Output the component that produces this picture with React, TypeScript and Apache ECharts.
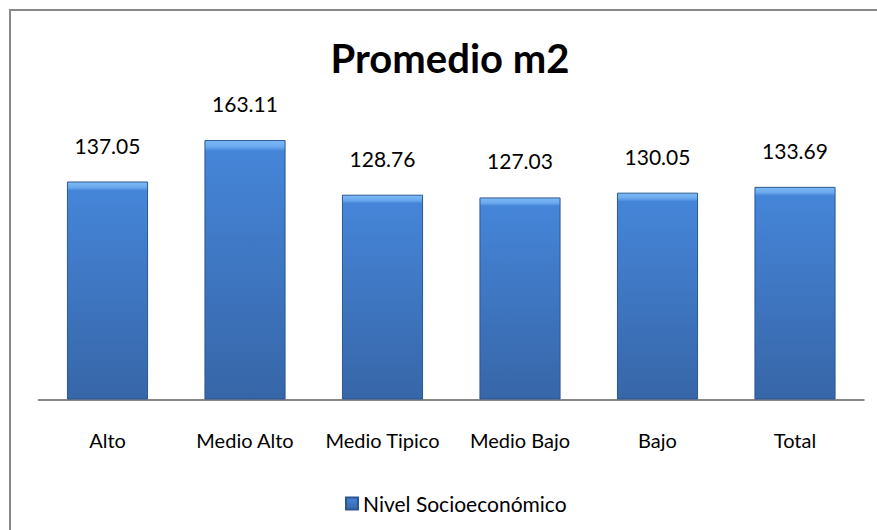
import React, { useEffect, useRef } from "react";
import * as echarts from "echarts";

const categories = ["Alto", "Medio Alto", "Medio Tipico", "Medio Bajo", "Bajo", "Total"];
const values = [137.05, 163.11, 128.76, 127.03, 130.05, 133.69];
const seriesName = "Nivel Socioeconómico";
const titleText = "Promedio m2";

const FONT = "Lato, 'Open Sans', sans-serif";

export default function App() {
  const ref = useRef<HTMLDivElement>(null);
  useEffect(() => {
    if (!ref.current) return;
    const chart = echarts.init(ref.current, undefined, { renderer: "svg" });
    const barColor = new echarts.graphic.LinearGradient(0, 0, 0, 1, [
      { offset: 0, color: "#7dbbf7" },
      { offset: 0.025, color: "#6aa8ee" },
      { offset: 0.04, color: "#4585d8" },
      { offset: 1, color: "#3766a8" },
    ]);
    chart.setOption({
      animation: false,
      backgroundColor: "#ffffff",
      graphic: [
        {
          type: "rect",
          shape: { x: 10, y: 10, width: 900, height: 600 },
          style: { fill: "none", stroke: "#888888", lineWidth: 2 },
          silent: true,
        },
        {
          type: "text",
          x: 450,
          y: 58,
          style: {
            text: titleText,
            fontFamily: FONT,
            fontWeight: "bold",
            fontSize: 40,
            fill: "#000000",
            textAlign: "center",
            textVerticalAlign: "middle",
          },
        },
      ],
      legend: {
        data: [seriesName],
        left: 340,
        top: 488,
        itemWidth: 12,
        itemHeight: 12,
        itemGap: 5,
        icon: "rect",
        textStyle: { fontFamily: FONT, fontSize: 21, color: "#000" },
      },
      grid: { left: 38.75, right: 13.25, top: 113.2, bottom: 130.5 },
      xAxis: {
        type: "category",
        data: categories,
        axisLine: { show: true, lineStyle: { color: "#868686", width: 2 } },
        axisTick: { show: false },
        axisLabel: {
          interval: 0,
          hideOverlap: false,
          fontFamily: FONT,
          fontSize: 20,
          color: "#000",
          margin: 30,
        },
      },
      yAxis: {
        type: "value",
        min: 0,
        max: 180,
        show: false,
        splitLine: { show: false },
      },
      series: [
        {
          name: seriesName,
          type: "bar",
          data: values,
          barWidth: "59%",
          itemStyle: { color: barColor, borderColor: "#2b5791", borderWidth: 1 },
          label: {
            show: true,
            position: "top",
            distance: 26,
            fontFamily: FONT,
            fontSize: 21,
            color: "#000",
            formatter: (p: any) => p.value.toFixed(2),
          },
        },
      ],
    });
    return () => chart.dispose();
  }, []);
  return (
    <div
      ref={ref}
      style={{ position: "fixed", left: 0, top: 0, width: 877, height: 530 }}
    />
  );
}
